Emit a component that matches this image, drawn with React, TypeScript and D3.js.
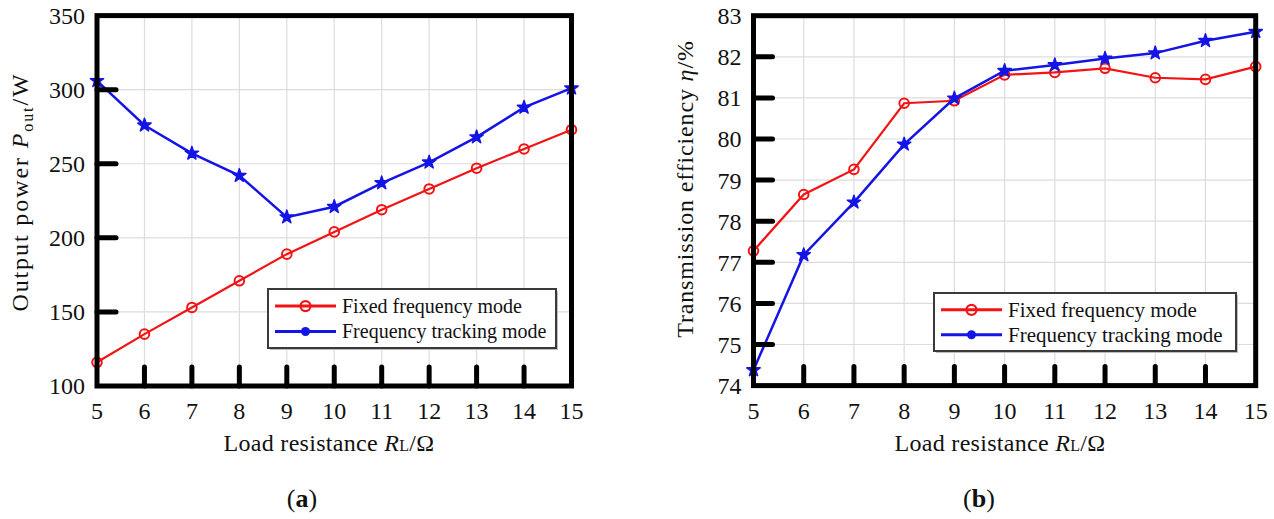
import React from "react";
import * as d3 from "d3";

const resistance = [5, 6, 7, 8, 9, 10, 11, 12, 13, 14, 15];
const powerFixed = [116, 135, 153, 171, 189, 204, 219, 233, 247, 260, 273];
const powerTracking = [306, 276, 257, 242, 214, 221, 237, 251, 268, 288, 301];
const effFixed = [77.28, 78.65, 79.26, 80.87, 80.93, 81.56, 81.62, 81.72, 81.49, 81.45, 81.76];
const effTracking = [74.38, 77.18, 78.46, 79.87, 80.99, 81.66, 81.8, 81.96, 82.09, 82.39, 82.61];
const powerTicks = [100, 150, 200, 250, 300, 350];
const effTicks = [74, 75, 76, 77, 78, 79, 80, 81, 82, 83];
const seriesNames = ["Fixed frequency mode", "Frequency tracking mode"];

const RED = "#f21414";
const BLUE = "#1414e6";
const FONT = "'Liberation Serif', 'Times New Roman', serif";

type PanelProps = {
  x0: number;
  x1: number;
  yTop: number;
  yBottom: number;
  yDomain: [number, number];
  yTicks: number[];
  fixed: number[];
  tracking: number[];
  yTitle: React.ReactNode;
  yTitleX: number;
  yTitleY: number;
  yTitleSpacing: number;
  xTitleX: number;
  labelX: number;
  label: string;
  legend: { x: number; y: number; w: number; h: number; fs: number };
};

function Panel(p: PanelProps) {
  const x = d3.scaleLinear().domain([5, 15]).range([p.x0, p.x1]);
  const y = d3.scaleLinear().domain(p.yDomain).range([p.yBottom, p.yTop]);
  const line = d3
    .line<number>()
    .x((_, i) => x(resistance[i]))
    .y((d) => y(d));
  const star = d3.symbol().type(d3.symbolStar).size(55)() as string;
  const innerX = resistance.slice(1, -1);
  const innerY = p.yTicks.slice(1, -1);
  const lg = p.legend;
  const row1 = lg.y + lg.h * 0.29;
  const row2 = lg.y + lg.h * 0.72;
  const sx0 = lg.x + 7;
  const sx1 = lg.x + 68;
  const sxm = (sx0 + sx1) / 2;
  return (
    <g fontFamily={FONT}>
      {innerX.map((v) => (
        <line key={"gx" + v} x1={x(v)} x2={x(v)} y1={p.yTop} y2={p.yBottom} stroke="#dcdcdc" strokeWidth={1.2} />
      ))}
      {innerY.map((v) => (
        <line key={"gy" + v} x1={p.x0} x2={p.x1} y1={y(v)} y2={y(v)} stroke="#dcdcdc" strokeWidth={1.2} />
      ))}
      <path d={line(p.fixed) as string} fill="none" stroke={RED} strokeWidth={2.2} />
      {p.fixed.map((v, i) => (
        <circle key={"rf" + i} cx={x(resistance[i])} cy={y(v)} r={4.8} fill="none" stroke={RED} strokeWidth={2} />
      ))}
      <path d={line(p.tracking) as string} fill="none" stroke={BLUE} strokeWidth={2.5} />
      {p.tracking.map((v, i) => (
        <path key={"bt" + i} d={star} transform={`translate(${x(resistance[i])},${y(v)})`} fill={BLUE} stroke={BLUE} strokeWidth={1.5} strokeLinejoin="round" />
      ))}
      {innerX.map((v) => (
        <line key={"tx" + v} x1={x(v)} x2={x(v)} y1={p.yBottom} y2={p.yBottom - 19} stroke="#000" strokeWidth={5} strokeLinecap="round" />
      ))}
      {innerY.map((v) => (
        <line key={"ty" + v} x1={p.x0} x2={p.x0 + 19} y1={y(v)} y2={y(v)} stroke="#000" strokeWidth={5} strokeLinecap="round" />
      ))}
      <rect x={p.x0} y={p.yTop} width={p.x1 - p.x0} height={p.yBottom - p.yTop} fill="none" stroke="#000" strokeWidth={5} />
      {p.yTicks.map((v) => (
        <text key={"ly" + v} x={p.x0 - 12} y={y(v)} dy="0.35em" textAnchor="end" fontSize={24} fill="#111">
          {v}
        </text>
      ))}
      {resistance.map((v) => (
        <text key={"lx" + v} x={x(v)} y={p.yBottom + 25} dy="0.35em" textAnchor="middle" fontSize={24} fill="#111">
          {v}
        </text>
      ))}
      <text x={p.xTitleX} y={451} textAnchor="middle" fontSize={24} letterSpacing={0.3} fill="#111">
        Load resistance <tspan fontStyle="italic">R</tspan>
        <tspan fontSize={16}>L</tspan>/Ω
      </text>
      <text
        transform={`translate(${p.yTitleX},${p.yTitleY}) rotate(-90)`}
        textAnchor="middle"
        fontSize={24}
        letterSpacing={p.yTitleSpacing}
        fill="#111"
      >
        {p.yTitle}
      </text>
      <text x={p.labelX} y={507} textAnchor="middle" fontSize={26} fill="#111">
        (<tspan fontWeight="bold">{p.label}</tspan>)
      </text>
      <rect x={lg.x + 2} y={lg.y + 2} width={lg.w} height={lg.h} fill="#bdbdbd" />
      <rect x={lg.x} y={lg.y} width={lg.w} height={lg.h} fill="#fff" stroke="#3a3a3a" strokeWidth={2} />
      <line x1={sx0} x2={sx1} y1={row1} y2={row1} stroke={RED} strokeWidth={3} />
      <circle cx={sxm} cy={row1} r={5} fill="none" stroke={RED} strokeWidth={2.2} />
      <line x1={sx0} x2={sx1} y1={row2} y2={row2} stroke={BLUE} strokeWidth={3} />
      <circle cx={sxm} cy={row2} r={4.5} fill={BLUE} />
      <text x={sx1 + 6} y={row1} dy="0.33em" fontSize={lg.fs} fill="#111">
        {seriesNames[0]}
      </text>
      <text x={sx1 + 6} y={row2} dy="0.33em" fontSize={lg.fs} fill="#111">
        {seriesNames[1]}
      </text>
    </g>
  );
}

export default function App() {
  return (
    <svg width={1274} height={519} style={{ position: "absolute", left: 0, top: 0, background: "#fff" }}>
      <rect width={1274} height={519} fill="#fff" />
      <Panel
        x0={97}
        x1={571.5}
        yTop={15.6}
        yBottom={386}
        yDomain={[100, 350]}
        yTicks={powerTicks}
        fixed={powerFixed}
        tracking={powerTracking}
        yTitle={
          <>
            Output power <tspan fontStyle="italic">P</tspan>
            <tspan fontSize={16} dy={5}>out</tspan>
            <tspan dy={-5}>/W</tspan>
          </>
        }
        yTitleX={28}
        yTitleY={192}
        yTitleSpacing={1.9}
        xTitleX={329}
        labelX={302}
        label="a"
        legend={{ x: 268, y: 289, w: 288, h: 59, fs: 20 }}
      />
      <Panel
        x0={753.5}
        x1={1255.7}
        yTop={15.7}
        yBottom={385.6}
        yDomain={[74, 83]}
        yTicks={effTicks}
        fixed={effFixed}
        tracking={effTracking}
        yTitle={
          <>
            Transmission efficiency <tspan fontStyle="italic">η</tspan>/%
          </>
        }
        yTitleX={693}
        yTitleY={189}
        yTitleSpacing={0.85}
        xTitleX={1000}
        labelX={979}
        label="b"
        legend={{ x: 934, y: 293, w: 302, h: 58, fs: 21 }}
      />
    </svg>
  );
}
